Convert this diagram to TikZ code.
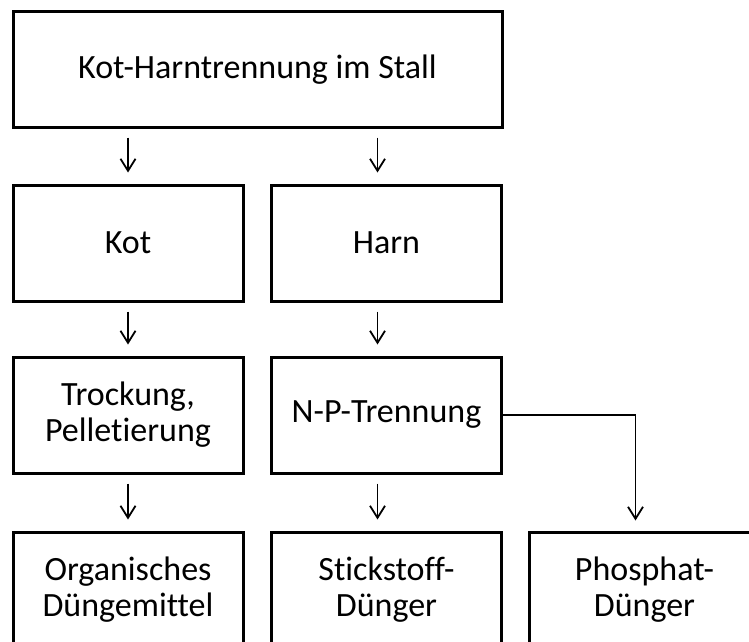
\documentclass[tikz,border=0pt]{standalone}
\usepackage{fontspec}
\setmainfont{Carlito}[Ligatures=CommonOff]
\usetikzlibrary{arrows.meta, calc}

\begin{document}
\begin{tikzpicture}[x=1pt, y=-1pt,
		kasten/.style={draw, line width=3pt, minimum width=230pt, minimum height=116pt,
			align=center, inner sep=0pt, font=\fontsize{34}{36}\selectfont},
		pfeil/.style={line width=1.8pt, -{Straight Barb[length=12pt, width=15pt, line width=1.8pt]}}]
			\def\lx{128};
			\def\rx{386.5};
			\def\px{644.5};
			\def\d{9};

			\useasboundingbox (0,0) rectangle (749,642);
			\clip (0,0) rectangle (749,642);

			% Kaesten
			\node [kasten, minimum width=489pt, minimum height=115pt] (stall) at (257.5,69.5) {Kot-Harntrennung im Stall};

			\node [kasten] (kot) at (\lx,243) {Kot};
			\node [kasten] (harn) at (\rx,243) {Harn};

			\node [kasten] (trocknung) at (\lx,415) {Trockung,\\Pelletierung};
			\node [kasten] (np) at (\rx,415) {N-P-Trennung};

			\node [kasten] (organisch) at (\lx,590) {Organisches\\Düngemittel};
			\node [kasten] (stickstoff) at (\rx,590) {Stickstoff-\\Dünger};
			\node [kasten] (phosphat) at (\px,590) {Phosphat-\\Dünger};

			% Pfeile
			\coordinate (harn oben) at ([xshift=-\d pt]harn.north);
			\coordinate (harn unten) at ([xshift=-\d pt]harn.south);
			\coordinate (np oben) at ([xshift=-\d pt]np.north);
			\coordinate (np unten) at ([xshift=-\d pt]np.south);
			\coordinate (stickstoff oben) at ([xshift=-\d pt]stickstoff.north);
			\coordinate (phosphat oben) at ([xshift=-\d pt]phosphat.north);

			\begin{scope}[shorten <=9pt, shorten >=11pt]
				\draw [pfeil] (stall.south -| kot.north) -- (kot.north);
				\draw [pfeil] (stall.south -| harn oben) -- (harn oben);
				\draw [pfeil] (kot.south) -- (trocknung.north);
				\draw [pfeil] (harn unten) -- (np oben);
				\draw [pfeil] (trocknung.south) -- (organisch.north);
				\draw [pfeil] (np unten) -- (stickstoff oben);
			\end{scope}
			\draw [pfeil, shorten >=10pt] (np.east) -| (phosphat oben);
		\end{tikzpicture}
\end{document}
